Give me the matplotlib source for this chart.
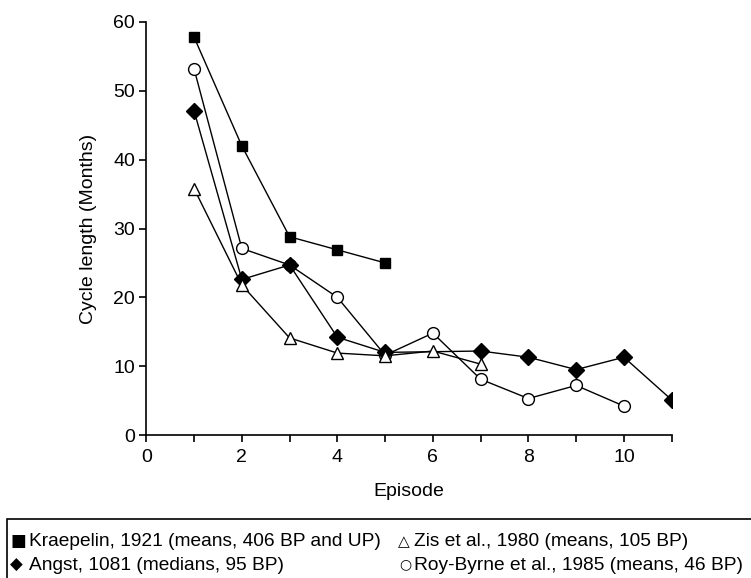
import matplotlib
matplotlib.use('Agg')
import matplotlib.pyplot as plt
from matplotlib.patches import Rectangle

plt.rcParams['font.family'] = ['Liberation Sans', 'DejaVu Sans']

# data
kraepelin_x = [1, 2, 3, 4, 5]
kraepelin_y = [57.8, 42.0, 28.8, 26.9, 25.0]

angst_x = [1, 2, 3, 4, 5, 7, 8, 9, 10, 11]
angst_y = [47.1, 22.6, 24.7, 14.2, 12.0, 12.2, 11.3, 9.5, 11.3, 5.1]

zis_x = [1, 2, 3, 4, 5, 6, 7]
zis_y = [35.8, 21.8, 14.1, 11.9, 11.5, 12.2, 10.3]

roy_x = [1, 2, 3, 4, 5, 6, 7, 8, 9, 10]
roy_y = [53.2, 27.1, 24.7, 20.0, 11.6, 14.8, 8.1, 5.3, 7.2, 4.2]

legend_markers = ['\u25A0', '\u25B3', '\u25C6', '\u25CB']
legend_labels = ['Kraepelin, 1921 (means, 406 BP and UP)',
                 'Zis et al., 1980 (means, 105 BP)',
                 'Angst, 1081 (medians, 95 BP)',
                 'Roy-Byrne et al., 1985 (means, 46 BP)']

fig = plt.figure(figsize=(7.51, 5.78), dpi=100)
ax = fig.add_axes([146.3 / 751, 1 - 435 / 578, (671.7 - 146.3) / 751, (435 - 22) / 578])

lw = 1.0
ax.plot(kraepelin_x, kraepelin_y, color='black', lw=lw, marker='s', ms=7.5,
        mfc='black', mec='black', zorder=3)
ax.plot(roy_x, roy_y, color='black', lw=lw, marker='o', ms=8.5,
        mfc='white', mec='black', mew=1.0, zorder=3)
ax.plot(angst_x, angst_y, color='black', lw=lw, marker='D', ms=8,
        mfc='black', mec='black', zorder=4)
ax.plot(zis_x, zis_y, color='black', lw=lw, marker='^', ms=9,
        mfc='white', mec='black', mew=1.0, zorder=5)

ax.set_xlim(0, 11)
ax.set_ylim(0, 60)
ax.set_xticks(range(0, 12))
ax.set_xticklabels([str(i) if i % 2 == 0 and i <= 10 else '' for i in range(0, 12)])
ax.set_yticks(range(0, 61, 10))
for s in ['top', 'right']:
    ax.spines[s].set_visible(False)
for s in ['left', 'bottom']:
    ax.spines[s].set_linewidth(1.2)
ax.tick_params(axis='both', direction='out', length=5, width=1.2, labelsize=14)
ax.tick_params(axis='x', pad=5)
ax.tick_params(axis='y', pad=3)

ax.set_xlabel('Episode', fontsize=14, labelpad=12)
ax.set_ylabel('Cycle length (Months)', fontsize=14, labelpad=12)

# legend box, running past the right and bottom edges like the source
fig.patches.append(Rectangle((7 / 751, -0.2), 1.0, 0.2 + 1 - 519 / 578,
                             transform=fig.transFigure, fill=False,
                             edgecolor='black', lw=1.2, clip_on=False))
row_base = [1 - 546 / 578, 1 - 570 / 578]
marker_x = [10 / 751, 398 / 751, 10 / 751, 399 / 751]
marker_lift = [0, 0, 0, 2 / 578]
label_x = [29 / 751, 414 / 751, 29 / 751, 414 / 751]
marker_size = [12, 11, 12, 10]
for i, (m, lab) in enumerate(zip(legend_markers, legend_labels)):
    r = i // 2
    fig.text(marker_x[i], row_base[r] + marker_lift[i], m, fontsize=marker_size[i],
             va='baseline', ha='left', family='DejaVu Sans')
    fig.text(label_x[i], row_base[r], lab, fontsize=13.8, va='baseline', ha='left')

fig.savefig('out.png', dpi=100)
